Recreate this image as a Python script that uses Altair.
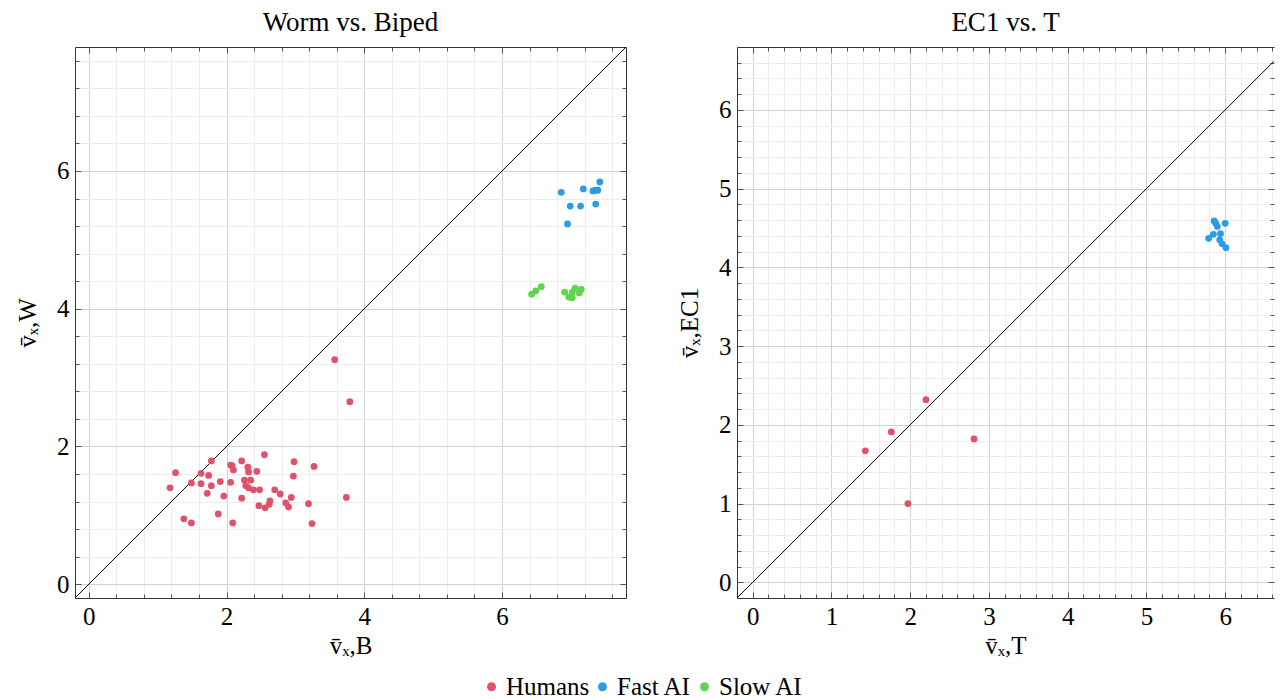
import altair as alt
import pandas as pd

FONT = "Liberation Serif"
GROUPS = ["Humans", "Fast AI", "Slow AI"]
COLORS = ["#e0516b", "#2b9be6", "#5fd44d"]

# ---- Worm vs. Biped ----
wb_humans_x = [1.18, 1.26, 1.38, 1.49, 1.49, 1.63, 1.63, 1.74, 1.78, 1.72, 1.78, 1.88,
               1.91, 1.96, 2.06, 2.08, 2.10, 2.06, 2.09, 2.22, 2.22, 2.31, 2.32, 2.26,
               2.35, 2.28, 2.32, 2.39, 2.44, 2.48, 2.55, 2.47, 2.56, 2.62, 2.63, 2.70,
               2.78, 2.86, 2.90, 2.94, 2.98, 2.97, 3.19, 3.24, 3.27, 3.74, 3.57, 3.79]
wb_humans_y = [1.40, 1.62, 0.95, 0.89, 1.47, 1.61, 1.46, 1.58, 1.79, 1.32, 1.43, 1.02,
               1.49, 1.28, 1.73, 1.72, 1.66, 1.48, 0.89, 1.79, 1.25, 1.70, 1.63, 1.51,
               1.51, 1.43, 1.40, 1.37, 1.64, 1.37, 1.88, 1.14, 1.11, 1.16, 1.21, 1.37,
               1.31, 1.18, 1.12, 1.26, 1.78, 1.57, 1.17, 0.88, 1.71, 1.26, 3.26, 2.65]
wb_fast_x = [6.86, 7.18, 7.42, 7.32, 7.36, 7.39, 6.99, 7.14, 7.36, 6.95]
wb_fast_y = [5.69, 5.74, 5.84, 5.71, 5.72, 5.72, 5.49, 5.49, 5.52, 5.23]
wb_slow_x = [6.43, 6.49, 6.57, 6.91, 6.97, 7.02, 7.02, 7.06, 7.12, 7.15]
wb_slow_y = [4.21, 4.26, 4.32, 4.24, 4.17, 4.16, 4.24, 4.30, 4.23, 4.28]

# ---- EC1 vs. T ----
et_humans_x = [1.43, 1.76, 2.20, 2.81, 1.97]
et_humans_y = [1.67, 1.91, 2.32, 1.82, 1.00]
et_fast_x = [5.86, 5.88, 5.90, 6.00, 5.94, 5.85, 5.79, 5.93, 5.96, 6.01]
et_fast_y = [4.59, 4.56, 4.52, 4.56, 4.43, 4.42, 4.37, 4.35, 4.30, 4.25]

# axis domains and ticks (the right panel is cut at the page edge, as in the original)
wb_xdomain = [-0.2, 7.8]
wb_ydomain = [-0.2, 7.8]
wb_major = [0, 2, 4, 6]
wb_minor = [0.4, 0.8, 1.2, 1.6, 2.4, 2.8, 3.2, 3.6, 4.4, 4.8, 5.2, 5.6, 6.4, 6.8, 7.2, 7.6]
et_xdomain = [-0.2, 6.62]
et_ydomain = [-0.2, 6.8]
et_major = [0, 1, 2, 3, 4, 5, 6]
et_minor = [0.2, 0.4, 0.6, 0.8, 1.2, 1.4, 1.6, 1.8, 2.2, 2.4, 2.6, 2.8, 3.2, 3.4, 3.6, 3.8,
            4.2, 4.4, 4.6, 4.8, 5.2, 5.4, 5.6, 5.8, 6.2, 6.4, 6.6]


def frame(groups):
    rows = []
    for name, xs, ys in groups:
        for a, b in zip(xs, ys):
            rows.append({"x": a, "y": b, "group": name})
    return pd.DataFrame(rows)


def axis_main(orient, values, title):
    return alt.Axis(orient=orient, values=values, title=title, grid=True, gridColor="#d2d2d2",
                    gridWidth=1, ticks=False, domain=True, domainColor="#333", domainWidth=1,
                    labelFont=FONT, labelFontSize=25,
                    labelColor="#000", labelPadding=6, labelFlush=False, titleFont=FONT,
                    titleFontSize=25, titleFontWeight="normal", titleColor="#000",
                    titlePadding=16 if orient == "left" else 4)


def axis_grid(orient, values):
    return alt.Axis(orient=orient, values=values, grid=True, gridColor="#ededed", gridWidth=1,
                    ticks=False, labels=False, domain=False, title=None)


def axis_border(orient, values, show):
    return alt.Axis(orient=orient, values=values, grid=False, ticks=False, labels=False,
                    domain=show, domainColor="#333", domainWidth=1, title=None)


def axis_ticks(orient, values, size):
    return alt.Axis(orient=orient, values=values, grid=False, ticks=True, tickSize=size,
                    tickColor="#555", tickWidth=1, offset=-size, labels=False, domain=False,
                    title=None)


def panel(points, xdomain, ydomain, major, minor, title, xtitle, ytitle, width, right_border):
    lo = max(xdomain[0], ydomain[0])
    hi = min(xdomain[1], ydomain[1])
    line_df = pd.DataFrame({"x": [lo, hi], "y": [lo, hi]})
    sx = alt.Scale(domain=xdomain, nice=False, zero=False)
    sy = alt.Scale(domain=ydomain, nice=False, zero=False)

    def enc(ax, ay):
        return dict(x=alt.X("x:Q", scale=sx, axis=ax), y=alt.Y("y:Q", scale=sy, axis=ay))

    hidden = dict(opacity=0, clip=True)
    l_grid = alt.Chart(line_df).mark_line(**hidden).encode(
        **enc(axis_grid("bottom", minor), axis_grid("left", minor)))
    l_main = alt.Chart(line_df).mark_line(color="#000", strokeWidth=1, clip=True).encode(
        **enc(axis_main("bottom", major, xtitle), axis_main("left", major, ytitle)))
    l_border = alt.Chart(line_df).mark_line(**hidden).encode(
        **enc(axis_border("top", major, True), axis_border("right", major, right_border)))
    l_pts = alt.Chart(points).mark_circle(size=46, opacity=1).encode(
        **enc(axis_ticks("bottom", major, 6), axis_ticks("left", major, 6)),
        color=alt.Color("group:N", scale=alt.Scale(domain=GROUPS, range=COLORS),
                        legend=alt.Legend(orient="none", legendX=404, legendY=627,
                                          direction="horizontal", title=None,
                                          labelFont=FONT, labelFontSize=25, labelColor="#000",
                                          symbolType="circle", symbolSize=80,
                                          symbolStrokeWidth=0, columnPadding=0,
                                          labelOffset=2)))
    l_t2 = alt.Chart(line_df).mark_line(**hidden).encode(
        **enc(axis_ticks("bottom", minor, 4), axis_ticks("left", minor, 4)))
    l_t3 = alt.Chart(line_df).mark_line(**hidden).encode(
        **enc(axis_ticks("top", major, 6), axis_ticks("right", major, 6)))
    l_t4 = alt.Chart(line_df).mark_line(**hidden).encode(
        **enc(axis_ticks("top", minor, 4), axis_ticks("right", minor, 4)))

    return alt.layer(l_grid, l_main, l_border, l_t2, l_t3, l_t4, l_pts).resolve_axis(
        x="independent", y="independent").properties(
        width=width, height=551,
        title=alt.TitleParams(title, font=FONT, fontSize=27, fontWeight="normal",
                              color="#000", anchor="middle", offset=10))


wb = frame([("Humans", wb_humans_x, wb_humans_y), ("Fast AI", wb_fast_x, wb_fast_y),
            ("Slow AI", wb_slow_x, wb_slow_y)])
et = frame([("Humans", et_humans_x, et_humans_y), ("Fast AI", et_fast_x, et_fast_y)])

left = panel(wb, wb_xdomain, wb_ydomain, wb_major, wb_minor, "Worm vs. Biped",
             "v̄ₓ,B", "v̄ₓ,W", 551, True)
right = panel(et, et_xdomain, et_ydomain, et_major, et_minor, "EC1 vs. T",
              "v̄ₓ,T", "v̄ₓ,EC1", 537, False)

chart = alt.hconcat(left, right, spacing=50).configure_view(strokeWidth=0).configure_legend(
    labelFont=FONT, labelFontSize=25, labelColor="#000", symbolSize=80, symbolType="circle",
    symbolStrokeWidth=0).properties(
    background="white", padding={"left": 7, "top": 0, "right": 0, "bottom": 0})

chart.save("out.html", embed_options={"renderer": "svg", "actions": False})
